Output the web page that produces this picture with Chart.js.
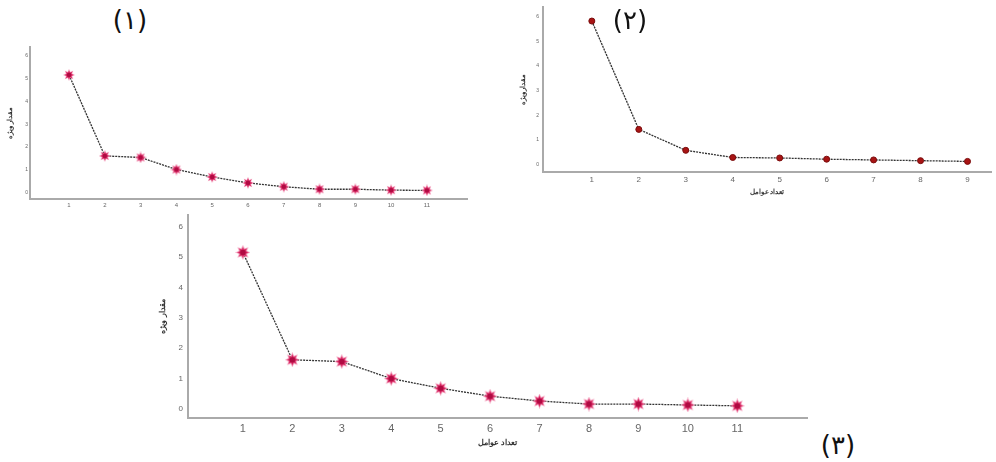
<!DOCTYPE html>
<html>
<head>
<meta charset="utf-8">
<script src="https://cdn.jsdelivr.net/npm/chart.js@4.4.1/dist/chart.umd.min.js"></script>
<style>
  body { margin: 0; background: #fff; width: 996px; height: 462px; position: relative; overflow: hidden; font-family: "DejaVu Sans", sans-serif; }
  canvas { position: absolute; }
  .tag { position: absolute; font-size: 26px; color: #111; transform: translate(-50%, -50%); font-family: "DejaVu Sans", sans-serif; }
</style>
</head>
<body>
<canvas id="scree1" width="475" height="175" style="left:0;top:40px"></canvas>
<canvas id="scree2" width="491" height="196" style="left:505px;top:0"></canvas>
<canvas id="scree3" width="665" height="243" style="left:150px;top:205px"></canvas>
<div class="tag" style="left:130px;top:20px">(۱)</div>
<div class="tag" style="left:630px;top:20px">(۲)</div>
<div class="tag" style="left:838px;top:445px">(۳)</div>
<script>
// scree plot data
const factors1 = [1, 2, 3, 4, 5, 6, 7, 8, 9, 10, 11];
const eigen1 = [5.17, 1.6, 1.53, 1.0, 0.67, 0.41, 0.24, 0.13, 0.13, 0.09, 0.08];

const factors2 = [1, 2, 3, 4, 5, 6, 7, 8, 9];
const eigen2 = [5.83, 1.43, 0.58, 0.29, 0.27, 0.22, 0.19, 0.16, 0.13];

const factors3 = [1, 2, 3, 4, 5, 6, 7, 8, 9, 10, 11];
const eigen3 = [5.16, 1.62, 1.56, 1.0, 0.68, 0.42, 0.26, 0.16, 0.16, 0.13, 0.10];

const yTicks = [0, 1, 2, 3, 4, 5, 6];
const yTitle = "مقدار ویژه";
const xTitle = "تعداد عوامل";

// 8 pointed burst marker (pink halo + darker core)
function makeBurst(size) {
    const c = document.createElement("canvas");
    c.width = size; c.height = size;
    const g = c.getContext("2d");
    const r = size / 2;
    function star(outer, inner, color) {
        g.beginPath();
        for (let i = 0; i < 16; i++) {
            const a = i * Math.PI / 8 - Math.PI / 2;
            const rad = i % 2 === 0 ? outer : inner;
            const px = r + Math.cos(a) * rad, py = r + Math.sin(a) * rad;
            i === 0 ? g.moveTo(px, py) : g.lineTo(px, py);
        }
        g.closePath();
        g.fillStyle = color;
        g.fill();
    }
    star(r, r * 0.55, "#f08db0");
    star(r * 0.75, r * 0.4, "#d81e5b");
    g.beginPath();
    g.arc(r, r, r * 0.38, 0, Math.PI * 2);
    g.fillStyle = "#b00a42";
    g.fill();
    return c;
}

function makeScree(id, factors, values, cfg) {
    const points = factors.map((f, i) => ({ x: f, y: values[i] }));
    return new Chart(document.getElementById(id), {
        type: "line",
        data: {
            datasets: [{
                data: points,
                borderColor: "#333",
                borderWidth: 1.3,
                borderDash: [2, 1],
                pointStyle: cfg.marker,
                pointRadius: cfg.pointRadius,
                pointBackgroundColor: cfg.pointColor,
                pointBorderColor: cfg.pointBorder,
                pointBorderWidth: 1,
                tension: 0
            }]
        },
        options: {
            responsive: false,
            animation: false,
            layout: { padding: cfg.padding },
            plugins: { legend: { display: false }, tooltip: { enabled: false } },
            scales: {
                x: {
                    type: "linear",
                    min: cfg.xMin,
                    max: cfg.xMax,
                    afterBuildTicks: axis => { axis.ticks = factors.map(v => ({ value: v })); },
                    afterFit: axis => { axis.height = cfg.xHeight; },
                    grid: { display: false, drawTicks: false },
                    border: { color: "#aaa", width: 2 },
                    ticks: { color: "#666", font: { size: cfg.xFont }, padding: cfg.xPad, maxRotation: 0, autoSkip: false },
                    title: {
                        display: cfg.showXTitle,
                        text: xTitle,
                        color: "#333",
                        font: { size: cfg.titleFont, weight: "bold" },
                        padding: { top: cfg.xTitlePad, bottom: 0 }
                    }
                },
                y: {
                    min: -0.3,
                    max: 6.4,
                    afterBuildTicks: axis => { axis.ticks = yTicks.map(v => ({ value: v })); },
                    afterFit: axis => { axis.width = cfg.yWidth; },
                    grid: { display: false, drawTicks: false },
                    border: { color: "#aaa", width: 2 },
                    ticks: { color: "#666", font: { size: cfg.yFont }, padding: cfg.yPad },
                    title: {
                        display: true,
                        text: yTitle,
                        color: "#333",
                        font: { size: cfg.titleFont, weight: "bold" },
                        padding: { top: cfg.yTitleLeft, bottom: 0 }
                    }
                }
            }
        }
    });
}

document.addEventListener("DOMContentLoaded", () => {
    makeScree("scree1", factors1, eigen1, {
        marker: makeBurst(12), pointRadius: 6, pointColor: "#d81e5b", pointBorder: "#d81e5b",
        padding: { top: 3, right: 8, left: 4 }, xMin: -0.09, xMax: 12.12,
        xHeight: 16, yWidth: 26, xFont: 6, yFont: 5, xPad: 3, yPad: 2,
        showXTitle: false, titleFont: 7, xTitlePad: 2, yTitleLeft: 2
    });
    makeScree("scree2", factors2, eigen2, {
        marker: "circle", pointRadius: 3, pointColor: "#a81414", pointBorder: "#7a0c0c",
        padding: { top: 3, right: 3, left: 12 }, xMin: -0.04, xMax: 9.5,
        xHeight: 24, yWidth: 26, xFont: 8, yFont: 5, xPad: 3, yPad: 4,
        showXTitle: true, titleFont: 7, xTitlePad: 3, yTitleLeft: 2
    });
    makeScree("scree3", factors3, eigen3, {
        marker: makeBurst(15), pointRadius: 7, pointColor: "#d81e5b", pointBorder: "#d81e5b",
        padding: { top: 7, right: 7, left: 2 }, xMin: -0.11, xMax: 12.41,
        xHeight: 30, yWidth: 36, xFont: 11, yFont: 8, xPad: 4, yPad: 5,
        showXTitle: true, titleFont: 8, xTitlePad: 4, yTitleLeft: 6
    });
});
</script>
</body>
</html>
